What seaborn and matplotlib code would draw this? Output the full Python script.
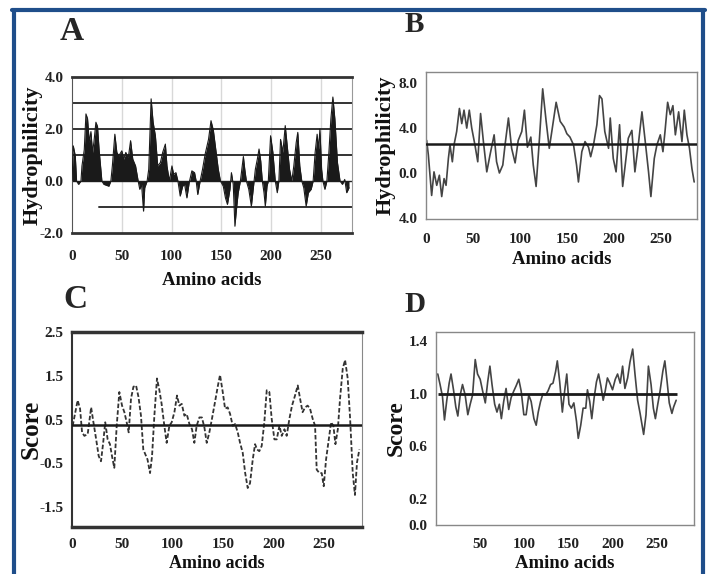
import numpy as np
import pandas as pd
import seaborn as sns
import matplotlib.pyplot as plt
from matplotlib.lines import Line2D

# Panel A - hydrophilicity profile (filled)
a_x = [0, 1.3, 3.3, 4.6, 6.6, 9, 10, 12.3, 14, 15.6, 17.3, 19, 20.6, 22, 24, 25.6, 27.2, 30, 32, 37,
       39, 40.5, 43, 45, 47, 50, 52, 54, 56.5, 58.8, 61, 63.8, 66.4, 68, 69.8, 71.8, 73, 75.4, 77, 79.4,
       81.4, 83.7, 86, 88.7, 91, 93.7, 95.3, 97.7, 100.3, 102, 104.3, 106.3, 108.6, 111, 113, 115.3, 117.6,
       120.3, 123, 124.6, 126.2, 128.6, 131, 133.6, 137, 139.5, 141.9, 144, 146.8, 149, 151.8, 154, 156,
       158.5, 160, 161.8, 163.5, 165, 166.8, 169, 170.8, 172, 173.4, 175, 177.4, 180, 182, 184, 186, 187.7,
       189.4, 191, 192.7, 194, 195.7, 197, 199.3, 201.6, 204, 206, 207.6, 209.3, 211.6, 214, 216, 218.3,
       220.6, 222.6, 225, 226.6, 228.6, 230.6, 232.6, 235, 237.2, 240, 242, 244, 246, 247.5, 248.8, 250.5,
       251.8, 253.8, 255.8, 257.8, 259.8, 261.8, 263.8, 266.4, 269, 271.4, 273.7, 275.7, 278]
a_y = [0, 1.35, 0.97, 0, -0.13, 0, 0.58, 1.2, 2.58, 2.4, 1.5, 1.9, 1.1, 1.5, 2.26, 2.1, 1.2, 0, -0.13, -0.2,
       0, 0.58, 1.8, 1.1, 0.97, 1.16, 0.84, 1.1, 0.9, 1.55, 0.84, 0.58, 0, -0.32, -0.13, -1.16, -0.26, 0, 0.45, 3.16,
       2.26, 1.74, 0.58, 0.71, 1.1, 1.42, 0.58, 0, 0.58, 0.26, 0.32, 0, -0.58, -0.2, -0.13, -0.65, -0.06,
       0.39, 0.32, 0, -0.52, 0, 0.45, 1.03, 1.6, 2.32, 1.94, 1.3, 0.45, 0, -0.2, -0.65, -0.9,
       -0.32, 0.32, -0.13, -1.74, -1.1, -0.45, 0, 0.58, 0.94, 0.45, 0, -0.32, -0.97, -0.26, 0.45, 0.84, 1.23,
       0.77, 0, -0.45, -0.97, -0.2, 0, 1.74, 1.1, 0, -0.45, 0, 1.6, 1.1, 2.13, 1.35, 0.45,
       0, 0.58, 1.48, 1.87, 0.58, 0, -0.26, -0.97, -0.45, -0.32, 0, 1.1, 1.8, 1.23, 2.0, 0.45,
       0, -0.32, 0, 1.1, 2.39, 3.23, 2.39, 0.71, 0, -0.13, 0.06, -0.45, -0.26]

# Panel B - hydrophilicity profile (line)
b_x = [0.7, 2.5, 6, 8.5, 11.4, 14.2, 16.7, 19.2, 21.3, 23.8, 25.5, 28, 30, 32.6, 35.5, 38, 40.4, 43.3, 46,
       48.6, 52, 55, 58, 61, 64.6, 68, 72.4, 75, 78, 81.6, 84, 87.6, 91, 94.7, 98, 101.8, 104.6, 107.8,
       111.4, 114, 117, 120.6, 124, 127.7, 131, 133.7, 138.3, 142.6, 146.8, 149.7, 153, 156.8, 160, 162,
       165.6, 169, 172.7, 175, 178, 181.6, 184.4, 187, 190, 194, 195.8, 199, 202, 205.7, 209, 211.7, 215,
       218.8, 222, 226, 229.5, 233, 236.5, 239, 242.6, 245.4, 249, 251.8, 254, 256.8, 259.6, 262.4, 265,
       268.5, 272, 274.5, 277.3, 280, 282.6, 285]
b_y = [2.9, 1.6, -2.0, 0.1, -1.1, -0.2, -2.1, -0.5, -1.1, 1.3, 2.5, 1.0, 2.6, 3.7, 5.75, 4.4, 5.6, 4.0, 5.6,
       4.0, 2.5, 1.0, 5.3, 2.8, 0.1, 1.6, 3.4, 1.0, 0.0, 0.7, 2.5, 4.9, 2.2, 0.9, 2.9, 3.7, 5.6, 2.3,
       3.2, 0.7, -1.2, 3.1, 7.5, 4.6, 2.2, 3.7, 6.3, 4.6, 4.1, 3.5, 3.2, 2.5, 0.7, -0.8,
       1.9, 2.8, 2.3, 1.45, 2.5, 4.3, 6.9, 6.6, 3.7, 2.2, 4.9, 1.3, 0.1, 4.3, -1.2, 0.7, 3.1,
       3.8, 0.1, 2.8, 5.45, 2.8, 0.1, -2.1, 1.3, 2.5, 3.4, 1.9, 3.7, 6.3, 5.2, 6.0, 3.4,
       5.45, 2.8, 5.6, 3.4, 2.2, 0.4, -0.8]
b_ref = 2.6

# Panel C - score profile (dashed)
c_x = [0.7, 3.3, 5.6, 8, 10, 12.3, 15.6, 19, 21, 24, 26.5, 28.8, 31, 33, 35.4, 37.7, 39.7, 42, 44.4, 47,
       49.7, 52, 54.3, 56.3, 58.6, 61, 63.6, 66, 68.5, 70.8, 72.8, 75, 77.5, 79.5, 81.8, 84.4, 86.8, 89,
       91.7, 94, 96.7, 99, 101.7, 104.3, 106.6, 109, 111.6, 113.9, 116.6, 119.2, 121.5, 123.8, 126.5, 129,
       131.5, 133.8, 136.4, 139, 142, 144.7, 147, 149.7, 152, 154.6, 157, 159.6, 162, 164.6, 166.9, 169.5,
       172, 174.5, 176.8, 179.5, 181.8, 183.8, 186, 188.4, 191, 193.4, 196, 198.3, 201, 203.3, 206, 208.3,
       211, 213.2, 215.9, 218.5, 221.5, 224.2, 226.5, 229, 231.5, 234, 236.4, 239, 241.4, 243, 245.7, 248,
       250, 252.3, 254.6, 257.3, 259.6, 261.6, 264, 266.2, 268.9, 271.2, 273.8, 276.2, 278.8, 281, 283, 285.4]
c_y = [0.36, 0.67, 0.94, 0.75, 0.21, 0.13, 0.17, 0.78, 0.48, 0.05, -0.33, -0.45, -0.02, 0.44, 0.05, -0.06,
       -0.33, -0.6, 0.36, 1.13, 0.82, 0.67, 0.44, 0.21, 0.98, 1.25, 1.28, 1.02, 0.59, -0.18, -0.29, -0.41,
       -0.72, -0.33, 0.59, 1.44, 1.17, 0.86, 0.36, -0.03, 0.36, 0.44, 0.67, 1.05, 0.82, 0.86, 0.59, 0.63,
       0.4, 0.28, -0.03, 0.36, 0.55, 0.55, 0.32, -0.03, 0.21, 0.52, 0.9, 1.25, 1.52, 1.13, 0.75, 0.78, 0.63,
       0.36, 0.4, 0.21, -0.03, -0.25, -0.72, -1.06, -0.95, -0.41, -0.06, -0.18, -0.22, -0.1, 0.44, 1.17,
       1.13, 0.52, 0.05, 0.05, 0.36, 0.13, 0.28, 0.13, 0.52, 0.82, 1.05, 1.28, 0.98, 0.67, 0.78, 0.82, 0.75,
       0.52, 0.36, -0.64, -0.72, -0.72, -1.02, -0.41, -0.02, 0.44, 0.36, -0.06, 0.28, 0.98, 1.67, 1.86, 1.44,
       0.52, -0.72, -1.22, -0.48, -0.18]
c_ref = 0.38

# Panel D - score profile (line)
d_x = [2, 4.6, 7.3, 9.6, 12.2, 14.9, 17, 19.8, 22.4, 24.7, 27.4, 30, 33, 36, 38.7, 41.4, 44.4, 47, 50, 52.8,
       55.8, 58.5, 61, 63.4, 66.4, 69, 71.7, 74, 76.6, 79.3, 82.3, 85, 88, 90.7, 93.7, 96.4, 99.4, 102, 105,
       107.7, 110.8, 113.4, 115.7, 118.3, 121, 124, 126.7, 129.7, 132.4, 135.4, 137.3, 140, 143, 145.6, 148,
       150.5, 153.2, 156, 159, 161, 163.8, 166.5, 169.5, 171.4, 174, 176.3, 179, 181.6, 184, 186.6, 189.2,
       191.5, 194, 196.8, 199.8, 202.9, 205.5, 208.5, 211.2, 213.8, 216.9, 219.5, 222.6, 225.2, 228.2, 231,
       233, 235, 237.7, 240.4, 243.4, 246, 248.3, 251, 253.6, 256.7, 259, 261.6, 264, 267, 269, 271.8]
d_y = [1.15, 1.07, 0.98, 0.8, 0.95, 1.08, 1.15, 1.03, 0.9, 0.83, 0.99, 1.07, 0.99, 0.84, 0.92, 0.99, 1.26,
       1.15, 1.11, 1.02, 0.93, 1.09, 1.21, 1.07, 0.92, 0.86, 0.92, 0.81, 0.94, 1.04, 0.88, 0.97, 1.02, 1.06,
       1.11, 1.02, 0.84, 0.84, 0.99, 0.94, 0.81, 0.76, 0.86, 0.94, 1.0, 0.99, 1.02, 1.07, 1.08, 1.17, 1.25,
       1.09, 0.86, 1.02, 1.15, 0.92, 0.89, 0.93, 0.79, 0.66, 0.76, 0.89, 0.89, 1.03, 0.94, 0.81, 0.97, 1.09,
       1.15, 1.06, 0.95, 1.02, 1.12, 1.08, 1.03, 1.11, 1.15, 1.08, 1.21, 1.04, 1.12, 1.24, 1.34, 1.15, 0.95,
       0.85, 0.77, 0.69, 0.84, 1.21, 1.07, 0.89, 0.81, 0.92, 1.02, 1.17, 1.25, 1.09, 0.93, 0.85, 0.9, 0.95]
d_ref = 1.0

x_ticks = [0, 50, 100, 150, 200, 250]
d_x_ticks = [50, 100, 150, 200, 250]
a_y_ticks = [-2.0, 0.0, 2.0, 4.0]
b_y_ticks = [-4.0, 0.0, 4.0, 8.0]
b_y_labels = ["4.0", "0.0", "4.0", "8.0"]
c_y_ticks = [-1.5, -0.5, 0.5, 1.5, 2.5]
d_y_ticks = [0.0, 0.2, 0.6, 1.0, 1.4]

sns.set_style("white")
plt.rcParams['font.family'] = ['Liberation Serif', 'DejaVu Serif']
plt.rcParams['font.weight'] = 'bold'
plt.rcParams['axes.labelweight'] = 'bold'

W, H = 708, 574
fig = plt.figure(figsize=(W / 100, H / 100), dpi=100)
fig.patch.set_facecolor('white')


def box(l, t, r, b):
    return [l / W, 1 - b / H, (r - l) / W, (b - t) / H]


def style(ax, xpad, ylabel, ysize, xlp, ylp, xsize=13.5):
    ax.tick_params(axis='both', which='major', length=3, width=1, direction='out',
                   labelsize=11, colors='#222222')
    ax.tick_params(axis='x', pad=xpad)
    ax.tick_params(axis='y', pad=3)
    ax.set_xlabel("Amino acids", fontsize=xsize, fontweight='bold', labelpad=xlp, color='#111111')
    ax.set_ylabel(ylabel, fontsize=ysize, fontweight='bold', labelpad=ylp, color='#111111')
    for lab in ax.get_xticklabels() + ax.get_yticklabels():
        lab.set_fontweight('bold')


# ---- A
axA = fig.add_axes(box(72, 77, 352, 233))
for gx in [50, 100, 150, 200, 250]:
    axA.axvline(gx, color='#d8d8d8', lw=1, zorder=0)
for gy in [1.0, 2.0, 3.0]:
    axA.axhline(gy, color='#333333', lw=1.4, zorder=1)
axA.axhline(-1.0, xmin=27 / 281, color='#333333', lw=1.4, zorder=1)
axA.axhline(0.0, color='#222222', lw=1, zorder=1)
axA.fill_between(a_x, a_y, 0, color='#1a1a1a', lw=0, zorder=2)
sns.lineplot(x=a_x, y=a_y, ax=axA, color='#1a1a1a', lw=0.8, estimator=None, zorder=3)
axA.set_xlim(0, 281)
axA.set_ylim(-2.0, 4.0)
axA.set_xticks(x_ticks)
axA.set_yticks(a_y_ticks)
axA.set_yticklabels([f"{v:.1f}" for v in a_y_ticks])
for s in ['top', 'bottom']:
    axA.spines[s].set_linewidth(2)
    axA.spines[s].set_color('#333333')
axA.spines['left'].set_color('#555555')
axA.spines['right'].set_color('#999999')
style(axA, 9, "Hydrophilicity", 16, 7, -2)

# ---- B
axB = fig.add_axes(box(426, 72, 697, 219))
axB.axhline(b_ref, color='#1a1a1a', lw=1.8, zorder=3)
sns.lineplot(x=b_x, y=b_y, ax=axB, color='#444444', lw=1.2, estimator=None, zorder=2)
axB.set_xlim(0, 288)
axB.set_ylim(-4.1, 9.0)
axB.set_xticks(x_ticks)
axB.set_yticks(b_y_ticks)
axB.set_yticklabels(b_y_labels)
for s in axB.spines.values():
    s.set_color('#888888')
    s.set_linewidth(1)
style(axB, 7, "Hydrophilicity", 16, 4, 2)

# ---- C
axC = fig.add_axes(box(72, 332, 362, 527))
axC.axhline(c_ref, color='#1a1a1a', lw=1.8, zorder=3)
sns.lineplot(x=c_x, y=c_y, ax=axC, color='#333333', lw=1.3, estimator=None, zorder=2,
             linestyle=(0, (2.5, 1.2)))
axC.set_xlim(0, 288)
axC.set_ylim(-1.95, 2.5)
axC.set_xticks(x_ticks)
axC.set_yticks(c_y_ticks)
axC.set_yticklabels([f"{v:.1f}" for v in c_y_ticks])
for s in ['top', 'bottom']:
    axC.spines[s].set_linewidth(2.5)
    axC.spines[s].set_color('#333333')
axC.spines['left'].set_linewidth(1.5)
axC.spines['left'].set_color('#333333')
axC.spines['right'].set_color('#888888')
style(axC, 5, "Score", 18, 3, -2, xsize=13)

# ---- D
axD = fig.add_axes(box(436, 332, 694, 525))
axD.hlines(d_ref, 2.5, 273, color='#1a1a1a', lw=2, zorder=3)
sns.lineplot(x=d_x, y=d_y, ax=axD, color='#444444', lw=1.2, estimator=None, zorder=2)
axD.set_xlim(0, 292)
axD.set_ylim(0.0, 1.47)
axD.set_xticks(d_x_ticks)
axD.set_yticks(d_y_ticks)
axD.set_yticklabels([f"{v:.1f}" for v in d_y_ticks])
for s in axD.spines.values():
    s.set_color('#888888')
    s.set_linewidth(1)
style(axD, 6, "Score", 17, 3, 1)

# panel letters
fig.text(72 / W, 1 - 31 / H, "A", fontsize=24, fontweight='bold', ha='center', va='center')
fig.text(414 / W, 1 - 25 / H, "B", fontsize=21, fontweight='bold', ha='center', va='center')
fig.text(75 / W, 1 - 300 / H, "C", fontsize=24, fontweight='bold', ha='center', va='center')
fig.text(415 / W, 1 - 304 / H, "D", fontsize=21, fontweight='bold', ha='center', va='center')

# blue frame
frame = '#1f4e8a'
fig.add_artist(Line2D([13.5 / W, 13.5 / W], [0, 1 - 9.5 / H], transform=fig.transFigure,
                      color=frame, lw=3))
fig.add_artist(Line2D([12 / W, 705 / W], [1 - 9.5 / H, 1 - 9.5 / H], transform=fig.transFigure,
                      color=frame, lw=3))
fig.add_artist(Line2D([703 / W, 703 / W], [0, 1 - 9.5 / H], transform=fig.transFigure,
                      color=frame, lw=3))

fig.savefig("out.png", dpi=100)
